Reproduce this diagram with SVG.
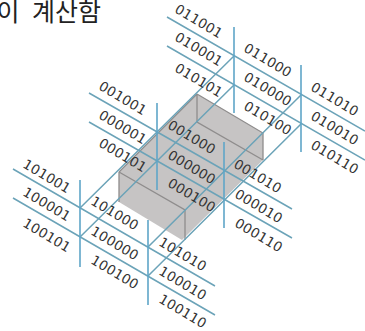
<svg xmlns="http://www.w3.org/2000/svg" width="365" height="331" viewBox="0 0 365 331">
<style>
.l{fill:none;stroke:#6ba3b8;stroke-width:1.5}
.v{fill:none;stroke:#5fa6c8;stroke-width:1.6}
.e{fill:none;stroke:#8f8d8d;stroke-width:1.3}
.t{font-family:"DejaVu Sans",sans-serif;font-size:13.5px;letter-spacing:.2px;fill:#333;text-anchor:middle;dominant-baseline:central}
.h{font-family:"Noto Sans CJK KR",sans-serif;font-size:25px;word-spacing:7px;fill:#222;text-anchor:end}
</style>
<rect width="365" height="331" fill="#fff"/>
<text class="h" x="101" y="21">이 계산함</text>
<g id="box">
<path d="M197 94L263 133V160L182 240L119 202V172Z" fill="#c6c4c4"/>
<path class="e" d="M197 94L263 133V160M197 94V122L263 160M119 172L197 94M119 172V202M119 172L185 210V240"/>
</g>
<g id="connectors">
<path class="l" d="M167 17L365 131M167 46L365 160M89 93L292 209M89 122L292 238M13 169L215 286M13 198L215 315"/>
<path class="l" d="M80 208L234 56M80 237L234 85M148 247L301 95M148 276L301 124"/>
<path class="v" d="M234 27V113M301 65V152M157 103V190M224 142V228M80 180V267M148 220V305"/>
</g>
<g id="labels">
<text class="t" transform="translate(199 21) rotate(31)">011001</text>
<text class="t" transform="translate(199 49) rotate(31)">010001</text>
<text class="t" transform="translate(199 80) rotate(31)">010101</text>
<text class="t" transform="translate(268 60) rotate(31)">011000</text>
<text class="t" transform="translate(268 89) rotate(31)">010000</text>
<text class="t" transform="translate(268 118) rotate(31)">010100</text>
<text class="t" transform="translate(335 99) rotate(31)">011010</text>
<text class="t" transform="translate(335 128) rotate(31)">010010</text>
<text class="t" transform="translate(335 157) rotate(31)">010110</text>
<text class="t" transform="translate(123 98) rotate(31)">001001</text>
<text class="t" transform="translate(123 127) rotate(31)">000001</text>
<text class="t" transform="translate(123 155) rotate(31)">000101</text>
<text class="t" transform="translate(192 137) rotate(31)">001000</text>
<text class="t" transform="translate(192 167) rotate(31)">000000</text>
<text class="t" transform="translate(192 195) rotate(31)">000100</text>
<text class="t" transform="translate(258 176) rotate(31)">001010</text>
<text class="t" transform="translate(259 206) rotate(31)">000010</text>
<text class="t" transform="translate(259 235) rotate(31)">000110</text>
<text class="t" transform="translate(47 176) rotate(31)">101001</text>
<text class="t" transform="translate(47 204) rotate(31)">100001</text>
<text class="t" transform="translate(47 235) rotate(31)">100101</text>
<text class="t" transform="translate(115 213) rotate(31)">101000</text>
<text class="t" transform="translate(115 243) rotate(31)">100000</text>
<text class="t" transform="translate(115 272) rotate(31)">100100</text>
<text class="t" transform="translate(183 254) rotate(31)">101010</text>
<text class="t" transform="translate(183 283) rotate(31)">100010</text>
<text class="t" transform="translate(183 311) rotate(31)">100110</text>
</g>
</svg>
